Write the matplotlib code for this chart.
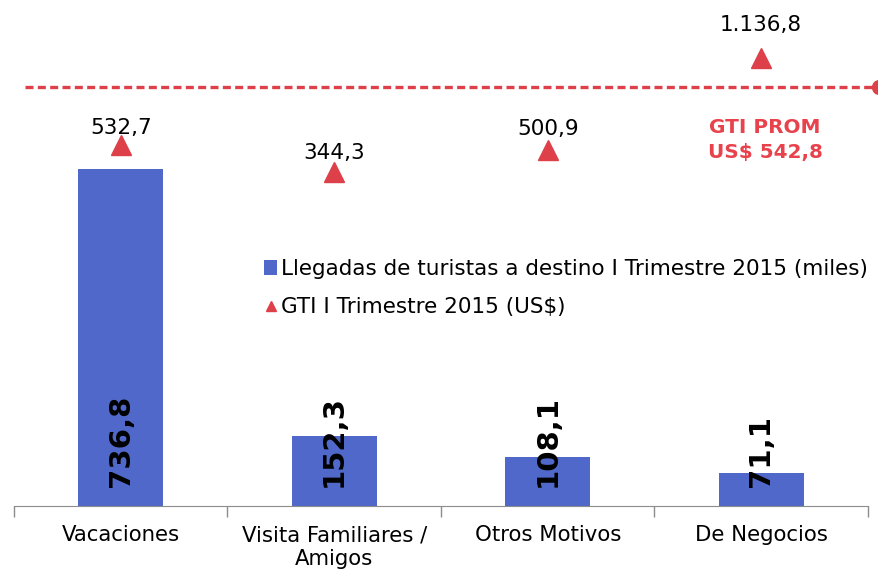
import matplotlib
matplotlib.use("Agg")
import matplotlib.pyplot as plt
import numpy as np

categories = ["Vacaciones", "Visita Familiares /\nAmigos", "Otros Motivos", "De Negocios"]
llegadas = [736.8, 152.3, 108.1, 71.1]
gti = [532.7, 344.3, 500.9, 1136.8]
gti_prom = 542.8

bar_labels = ["736,8", "152,3", "108,1", "71,1"]
gti_labels = ["532,7", "344,3", "500,9", "1.136,8"]

BLUE = "#4F68C9"
RED = "#DE4049"

plt.rcParams['font.family'] = ['DejaVu Sans']
fig = plt.figure(figsize=(8.79, 5.70), dpi=100)
ax = fig.add_axes([14/879, 64/570, (868-14)/879, 506/570])
x = np.arange(len(categories))
ax.bar(x, llegadas, width=0.4, color=BLUE, label="Llegadas de turistas a destino I Trimestre 2015 (miles)", zorder=2)
ax.set_xlim(-0.5, len(categories) - 0.5)
ax.set_ylim(0, 506 / 0.4575)
for xi, v, lab in zip(x, llegadas, bar_labels):
    ax.annotate(lab, (xi, 0), xytext=(0, 13.5), textcoords="offset points", rotation=90,
                ha="center", va="bottom", fontsize=21, fontweight="bold", color="black")

for s in ["top", "right", "left"]:
    ax.spines[s].set_visible(False)
ax.spines["bottom"].set_color("#8C8C8C")
ax.set_yticks([])
ax.set_xticks(x)
ax.set_xticklabels(categories, fontsize=15.3, linespacing=1.22)
ax.tick_params(axis="x", which="major", length=0, pad=14)
ax.set_xticks(np.arange(-0.5, len(categories)), minor=True)
ax.tick_params(axis="x", which="minor", length=8, color="#8C8C8C", width=1)

ax2 = ax.twinx()
ax2.set_ylim(-1986, 1544.6)
ax2.axis("off")
ax2.plot(x, gti, linestyle="none", marker="^", markersize=14, color=RED, label="GTI I Trimestre 2015 (US$)", zorder=3)
label_offsets = [12.5, 14, 14.5, 24]
for xi, v, lab, off in zip(x, gti, gti_labels, label_offsets):
    ax2.annotate(lab, (xi, v), xytext=(0, off), textcoords="offset points", ha="center", va="center",
                 fontsize=15.5, color="black")

# average line (annotation)
yl = (506 - 87) / 506
ax2.plot([(25 - 14) / (868 - 14), (879 - 14) / (868 - 14)], [yl, yl], transform=ax.transAxes,
         linestyle=(0, (2.4, 1.3)), color=RED, linewidth=2.4, clip_on=False)
ax2.plot([(879 - 14) / (868 - 14)], [yl], transform=ax.transAxes, marker="o", markersize=10,
         color=RED, clip_on=False)
fig.text(765/879, 1 - 140/570, "GTI PROM\nUS$ " + f"{gti_prom:.1f}".replace(".", ","), ha="center", va="center",
         fontsize=14.4, fontweight="bold", color="#E8424C", linespacing=1.45)

h1, l1 = ax.get_legend_handles_labels()
h2, l2 = ax2.get_legend_handles_labels()
leg = fig.legend(h1 + h2, l1 + l2, loc="upper left", bbox_to_anchor=(249/879, 1 - 244/570), frameon=False,
                 fontsize=15.5, handlelength=0.6, handletextpad=0.2, labelspacing=0.85, markerscale=0.55,
                 borderpad=0.2)

fig.savefig("out.png", dpi=100)
